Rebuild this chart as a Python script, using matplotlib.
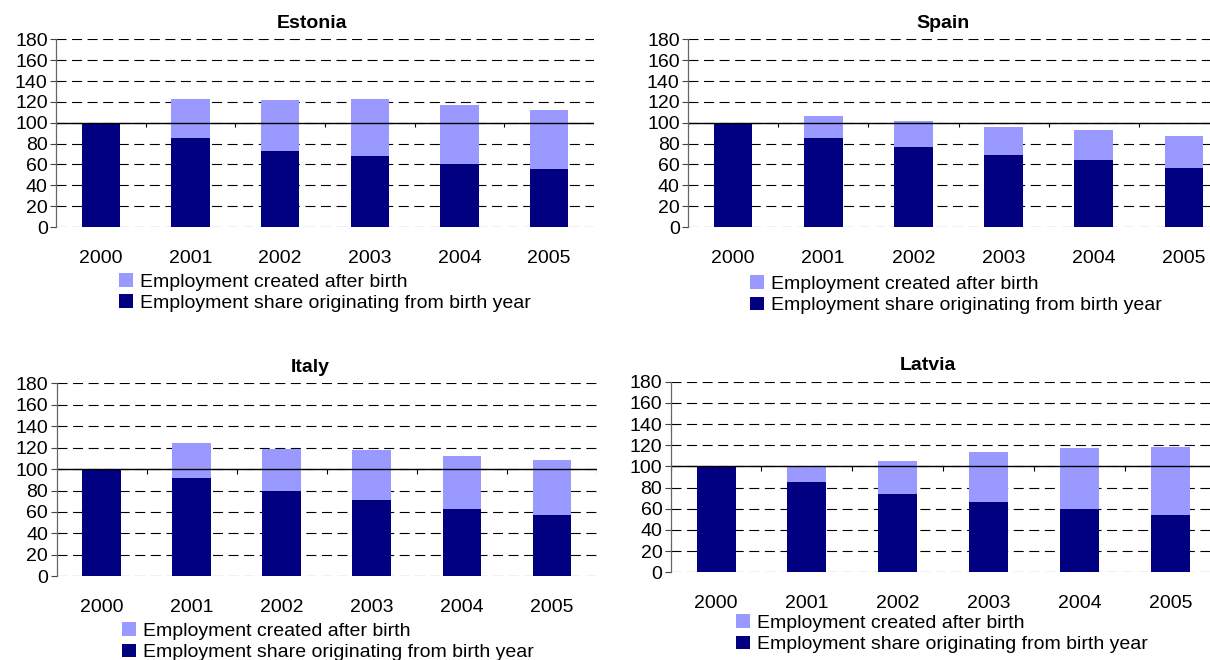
import matplotlib
matplotlib.use('Agg')
import matplotlib.pyplot as plt
from matplotlib.patches import Patch

plt.rcParams['font.family'] = ['Liberation Sans', 'DejaVu Sans']

years = ['2000', '2001', '2002', '2003', '2004', '2005']

# employment share originating from birth year (dark part)
estonia_birth = [100, 85.7, 72.9, 68.4, 60.4, 55.6]
spain_birth = [100, 85.7, 77.0, 69.4, 64.6, 56.9]
italy_birth = [100, 92.0, 79.6, 71.2, 62.8, 57.2]
latvia_birth = [100, 85.3, 73.9, 66.4, 59.8, 54.1]

# total employment (top of light part)
estonia_total = [100, 122.8, 121.8, 122.8, 117.0, 112.2]
spain_total = [100, 106.5, 101.7, 95.9, 93.0, 87.3]
italy_total = [100, 124.3, 118.7, 117.8, 112.2, 108.5]
latvia_total = [100, 99.7, 105.1, 113.6, 117.4, 118.3]

lab_after = 'Employment created after birth'
lab_birth = 'Employment share originating from birth year'
dark = '#000080'
light = '#9999FF'
fs = 14

W, H = 1210, 660
fig = plt.figure(figsize=(W / 100, H / 100), dpi=100)


def px_axes(left, right, top, bottom):
    return fig.add_axes([left / W, 1 - bottom / H, (right - left) / W, (bottom - top) / H])


def panel(box, title, title_xy, legend_xy, birth, total):
    ax = px_axes(*box)
    x = list(range(len(years)))
    after = [t - b for t, b in zip(total, birth)]
    ax.bar(x, birth, width=0.43, color=dark, zorder=3)
    ax.bar(x, after, bottom=birth, width=0.43, color=light, zorder=3)
    ax.set_xlim(-0.5, 5.5)
    ax.set_ylim(0, 180)
    ax.set_yticks(range(0, 181, 20))
    ax.yaxis.grid(True, linestyle=(0, (9, 5)), color='black', linewidth=0.8, zorder=1)
    ax.set_axisbelow(True)
    ax.set_xticks(x)
    ax.set_xticklabels(years)
    ax.tick_params(axis='x', length=0, pad=16.5, labelsize=fs)
    ax.tick_params(axis='y', length=4, width=0.8, pad=2, labelsize=fs, color='#444444')
    for s in ['top', 'right', 'bottom']:
        ax.spines[s].set_visible(False)
    ax.spines['left'].set_color('#666666')
    ax.spines['left'].set_linewidth(0.9)
    ax.spines['left'].set_zorder(4)
    # category axis crosses at 100
    ax.axhline(100, color='black', linewidth=1.0, zorder=4)
    ax.vlines([i - 0.5 for i in range(len(years) + 1)], 95.5, 100, color='black', linewidth=0.8, zorder=4)
    fig.text(title_xy[0] / W, 1 - title_xy[1] / H, title, ha='center', va='center',
             fontsize=fs, fontweight='bold')
    handles = [Patch(facecolor=light, edgecolor='none', label=lab_after),
               Patch(facecolor=dark, edgecolor='none', label=lab_birth)]
    fig.legend(handles=handles, loc='upper left',
               bbox_to_anchor=(legend_xy[0] / W, 1 - legend_xy[1] / H),
               frameon=False, fontsize=fs, borderpad=0, borderaxespad=0,
               handlelength=0.7, handleheight=0.7, handletextpad=0.4,
               labelspacing=0.2)
    return ax


panel((56, 594, 39.3, 227), 'Estonia', (312, 24), (119, 273), estonia_birth, estonia_total)
panel((688, 1229, 39.3, 227), 'Spain', (943, 24), (750, 275), spain_birth, spain_total)
panel((56.5, 597, 383.3, 576.3), 'Italy', (310, 368), (122, 622), italy_birth, italy_total)
panel((670.6, 1216, 381.7, 572.3), 'Latvia', (928, 366), (736, 614), latvia_birth, latvia_total)

fig.savefig('out.png', dpi=100)
